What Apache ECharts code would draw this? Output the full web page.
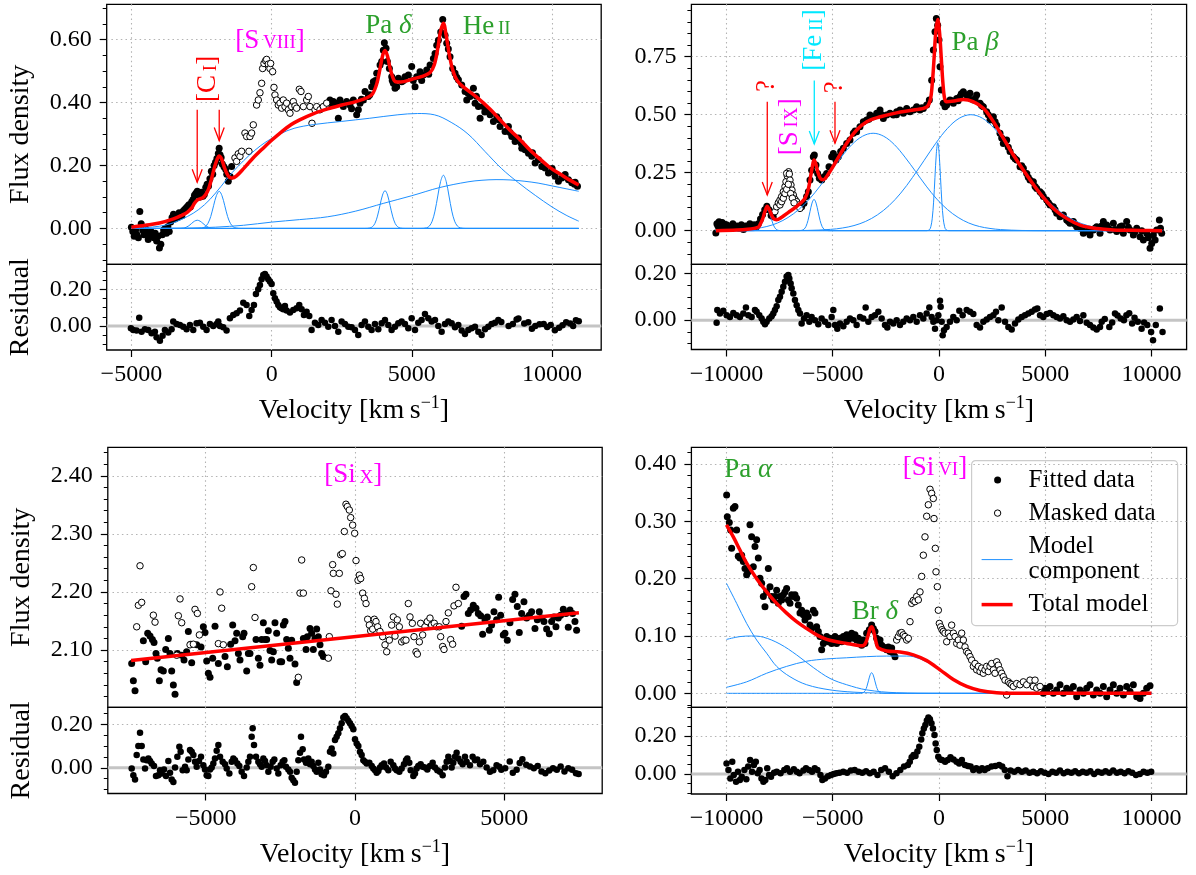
<!DOCTYPE html>
<html>
<head>
<meta charset="utf-8">
<script src="https://cdn.jsdelivr.net/npm/echarts@6.0.0/dist/echarts.min.js"></script>
<style>
html,body{margin:0;padding:0;background:#fff;}
#chart{width:1196px;height:875px;}
</style>
</head>
<body>
<div id="chart"></div>
<script>
// ---------------- Panel 1: Pa delta / He II region ----------------
const p1Fitted = [[-5000,0.004],[-4950,-0.010],[-4900,-0.025],[-4850,-0.005],[-4800,-0.020],[-4750,-0.030],[-4700,0.054],[-4650,0.015],[-4600,-0.005],[-4550,-0.020],[-4500,0.000],[-4450,-0.015],[-4400,-0.035],[-4350,-0.020],[-4300,-0.010],[-4250,-0.025],[-4200,-0.030],[-4150,-0.015],[-4100,-0.040],[-4050,-0.025],[-4000,-0.062],[-3950,-0.050],[-3900,-0.020],[-3850,-0.005],[-3800,0.000],[-3750,-0.015],[-3700,0.005],[-3650,-0.010],[-3600,0.020],[-3550,0.035],[-3500,0.045],[-3450,0.030],[-3400,0.040],[-3350,0.035],[-3300,0.050],[-3250,0.045],[-3200,0.040],[-3150,0.055],[-3100,0.060],[-3050,0.065],[-3000,0.070],
[-2950,0.075],[-2900,0.068],[-2850,0.085],[-2800,0.092],[-2750,0.105],[-2700,0.112],[-2650,0.118],[-2600,0.108],[-2550,0.100],[-2500,0.115],[-2450,0.102],[-2400,0.108],[-2350,0.130],[-2300,0.140],[-2250,0.135],[-2200,0.158],[-2150,0.182],[-2100,0.172],[-2050,0.200],[-2000,0.210],[-1950,0.222],[-1900,0.238],[-1870,0.255],[-1840,0.234],[-1800,0.225],[-1760,0.205],[-1700,0.196],[-1640,0.188],[-1600,0.172],[-1545,0.150],[-1480,0.165],[-1426,0.197],
[2081,0.408],[2140,0.392],[2200,0.403],[2319,0.398],[2378,0.350],[2438,0.408],[2500,0.395],[2557,0.387],[2676,0.403],[2795,0.392],[2850,0.380],[2913,0.408],[3032,0.361],[3092,0.377],[3151,0.398],[3200,0.410],[3270,0.408],[3330,0.435],[3448,0.419],[3500,0.425],[3567,0.450],[3627,0.466],[3700,0.470],[3746,0.493],[3865,0.519],[3924,0.530],[3983,0.566],[4019,0.590],[4079,0.572],[4126,0.530],[4198,0.508],[4281,0.482],[4300,0.470],[4340,0.461],[4400,0.445],[4459,0.450],[4519,0.477],[4638,0.466],[4700,0.470],[4757,0.482],[4876,0.487],[4994,0.514],[5050,0.470],[5113,0.450],[5172,0.482],[5291,0.498],[5350,0.470],[5410,0.487],[5529,0.503],[5600,0.490],[5648,0.519],[5767,0.540],[5826,0.556],[5886,0.582],[5945,0.598],[6029,0.624],[6100,0.664],[6183,0.614],[6242,0.588],[6300,0.570],[6361,0.545],[6456,0.508],[6540,0.493],[6600,0.480],[6659,0.472],[6778,0.456],[6897,0.435],[6956,0.408],[7000,0.430],[7075,0.419],[7194,0.445],[7253,0.398],[7300,0.420],[7372,0.387],[7432,0.350],[7551,0.387],[7600,0.370],[7670,0.377],[7789,0.361],[7907,0.340],[8026,0.355],[8100,0.345],[8145,0.324],[8323,0.308],[8442,0.324],[8500,0.305],[8561,0.292],[8680,0.276],[8799,0.287],[8900,0.270],[8918,0.255],[9037,0.250],[9156,0.239],[9275,0.229],[9300,0.240],[9394,0.208],[9513,0.218],[9632,0.197],[9700,0.200],[9750,0.192],[9869,0.176],[9988,0.181],[10000,0.190],[10107,0.166],[10226,0.150],[10345,0.160],[10400,0.165],[10464,0.171],[10583,0.155],[10702,0.145],[10800,0.140],[10821,0.147],[10904,0.134]];
const p1Masked = [[-1307,0.224],[-1248,0.213],[-1189,0.237],[-1129,0.229],[-1070,0.245],[-951,0.303],[-891,0.292],[-808,0.245],[-773,0.292],[-713,0.303],[-654,0.329],[-535,0.392],[-475,0.408],[-416,0.431],[-356,0.461],[-321,0.508],[-273,0.524],[-214,0.533],[-178,0.537],[-119,0.522],[-59,0.508],[-35,0.524],[36,0.498],[84,0.448],[119,0.424],[179,0.408],[238,0.392],[298,0.398],[357,0.382],[416,0.408],[476,0.387],[535,0.398],[595,0.377],[654,0.366],[713,0.387],[773,0.403],[832,0.389],[892,0.382],[987,0.442],[1047,0.435],[1130,0.387],[1249,0.408],[1308,0.419],[1368,0.387],[1439,0.334],[1546,0.377],[1606,0.387],[1725,0.377],[1844,0.387],[1963,0.398]];
const p1Resid = [[-5017,-0.013],[-4934,-0.022],[-4815,-0.025],[-4720,0.045],[-4637,-0.031],[-4518,-0.018],[-4399,-0.022],[-4280,-0.040],[-4162,-0.031],[-4102,-0.062],[-3983,-0.080],[-3888,-0.054],[-3805,-0.022],[-3686,-0.036],[-3567,-0.018],[-3508,0.024],[-3389,0.011],[-3270,0.005],[-3151,-0.004],[-3032,-0.018],[-2913,0.005],[-2795,-0.022],[-2676,0.015],[-2557,0.018],[-2438,-0.004],[-2319,-0.022],[-2200,0.011],[-2081,0.000],[-1962,0.011],[-1903,0.024],[-1844,0.000],[-1725,-0.007],[-1606,-0.025],[-1487,0.042],[-1368,0.060],[-1249,0.069],[-1130,0.084],[-1011,0.127],[-893,0.114],[-797,0.054],[-714,0.087],[-631,0.114],[-560,0.174],[-477,0.200],[-417,0.223],[-358,0.254],[-298,0.278],[-239,0.283],[-179,0.269],[-120,0.254],[-60,0.242],[0,0.229],[58,0.178],[118,0.151],[177,0.133],[237,0.114],[296,0.102],[356,0.096],[415,0.091],[475,0.109],[534,0.084],[653,0.073],[772,0.087],[890,0.096],[985,0.114],[1069,0.091],[1152,0.060],[1247,0.078],[1342,0.054],[1425,-0.022],[1544,0.018],[1663,0.005],[1782,0.033],[1901,0.018],[2020,-0.004],[2138,0.033],[2257,0.000],[2376,-0.031],[2495,0.024],[2614,0.011],[2733,-0.004],[2852,-0.007],[2970,-0.022],[3089,-0.049],[3208,0.005],[3327,0.024],[3446,-0.004],[3565,-0.022],[3684,0.011],[3803,-0.018],[3922,0.015],[4041,0.033],[4160,0.005],[4278,-0.022],[4397,-0.004],[4516,0.015],[4635,0.024],[4754,0.011],[4873,-0.013],[4992,0.042],[5111,-0.022],[5229,0.018],[5348,0.033],[5467,0.065],[5586,0.042],[5705,0.024],[5824,0.033],[5943,0.000],[6061,-0.031],[6180,0.011],[6299,0.024],[6418,0.015],[6537,-0.007],[6656,0.005],[6775,-0.025],[6893,-0.044],[7012,-0.022],[7131,-0.013],[7250,-0.004],[7369,-0.031],[7488,-0.049],[7607,-0.018],[7725,-0.004],[7844,0.011],[7963,0.018],[8082,0.033],[8189,0.022],[8450,0.000],[8600,0.010],[8734,0.035],[8800,0.040],[9006,0.013],[9150,0.020],[9279,-0.015],[9400,0.000],[9552,0.009],[9700,0.010],[9825,-0.006],[9950,0.005],[10098,-0.024],[10250,-0.010],[10371,0.004],[10500,0.020],[10644,0.013],[10750,0.000],[10849,0.031],[10950,0.025]];
const p1Total = [[-5000,0.004],[-4500,0.010],[-4000,0.017],[-3500,0.030],[-3200,0.042],[-3000,0.052],[-2850,0.065],[-2750,0.080],[-2650,0.090],[-2550,0.094],[-2450,0.098],[-2350,0.108],[-2250,0.125],[-2150,0.155],[-2050,0.190],[-1950,0.218],[-1870,0.230],[-1790,0.222],[-1700,0.198],[-1600,0.175],[-1500,0.162],[-1400,0.160],[-1250,0.167],[-1000,0.190],[-700,0.220],[-300,0.255],[0,0.280],[300,0.303],[700,0.330],[1000,0.345],[1500,0.365],[2000,0.380],[2500,0.392],[3000,0.403],[3400,0.415],[3600,0.428],[3750,0.460],[3870,0.510],[3960,0.550],[4043,0.565],[4130,0.548],[4220,0.510],[4320,0.480],[4420,0.466],[4600,0.465],[5000,0.474],[5400,0.484],[5650,0.495],[5800,0.520],[5920,0.570],[6020,0.625],[6124,0.652],[6220,0.615],[6330,0.555],[6450,0.505],[6600,0.472],[6800,0.452],[7300,0.418],[7800,0.378],[8145,0.345],[8500,0.312],[8858,0.282],[9200,0.250],[9571,0.220],[9900,0.195],[10285,0.173],[10600,0.155],[10950,0.138]];
const p1CompBroad = [[-5000,0.001],[-4500,0.003],[-4000,0.007],[-3500,0.018],[-3000,0.038],[-2600,0.060],[-2200,0.092],[-1800,0.134],[-1400,0.178],[-1000,0.215],[-600,0.248],[-200,0.275],[300,0.300],[800,0.318],[1500,0.330],[2500,0.340],[3500,0.350],[4500,0.361],[5200,0.365],[5800,0.361],[6400,0.337],[7000,0.300],[7600,0.245],[8200,0.190],[8800,0.145],[9400,0.105],[10000,0.068],[10500,0.042],[10950,0.023]];
const p1CompWing = [[-5000,0.000],[-3000,0.001],[-2000,0.004],[-1000,0.010],[0,0.020],[1000,0.028],[2000,0.037],[3000,0.055],[4000,0.080],[5000,0.104],[6000,0.130],[7000,0.148],[7500,0.153],[8000,0.155],[8500,0.154],[9000,0.150],[9500,0.144],[10000,0.135],[10500,0.126],[10950,0.118]];
const p1CompCI1 = [[-5000,0],[-3450,0],[-3250,0.0003],[-3150,0.001],[-3050,0.0035],[-2950,0.0085],[-2850,0.016],[-2750,0.023],[-2650,0.026],[-2550,0.023],[-2450,0.016],[-2350,0.0085],[-2250,0.0035],[-2150,0.001],[-2050,0.0003],[-1850,0],[10950,0]];
const p1CompCI2 = [[-5000,0],[-2670,0],[-2470,0.0013],[-2370,0.0052],[-2270,0.016],[-2170,0.038],[-2070,0.072],[-1970,0.104],[-1870,0.118],[-1770,0.104],[-1670,0.072],[-1570,0.038],[-1470,0.016],[-1370,0.0052],[-1270,0.0013],[-1070,0],[10950,0]];
const p1CompPaD = [[-5000,0],[3323,0],[3503,0.0013],[3593,0.0053],[3683,0.016],[3773,0.039],[3863,0.073],[3953,0.106],[4043,0.120],[4133,0.106],[4223,0.073],[4313,0.039],[4403,0.016],[4493,0.0053],[4583,0.0013],[4763,0],[10950,0]];
const p1CompHeII = [[-5000,0],[5324,0],[5524,0.0019],[5624,0.0074],[5724,0.023],[5824,0.055],[5924,0.103],[6024,0.149],[6124,0.169],[6224,0.149],[6324,0.103],[6424,0.055],[6524,0.023],[6624,0.0074],[6724,0.0019],[6924,0],[10950,0]];
// line identifications: {small caps}, *italic*
const p1Notes = [
  {x:-2260, y:0.475, text:'[C{\u2009I}]', rot:90},
  {x:-60, y:0.597, text:'[S{\u2009VIII}]', rot:0},
  {x:4160, y:0.642, text:'Pa *\u03b4*', rot:0},
  {x:7667, y:0.640, text:'He{\u2009II}', rot:0}
];
const p1Arrows = [[-2653,0.377,0.147],[-1868,0.377,0.279]];

// ---------------- Panel 2: Pa beta region ----------------
const p2Fitted = [[-10500,-0.010],[-10450,0.030],[-10400,0.020],[-10350,0.038],[-10300,0.015],[-10250,0.025],[-10200,0.035],[-10150,0.012],[-10100,0.028],[-10050,0.020],[-10000,0.025],[-9900,0.010],[-9800,0.020],[-9700,0.030],[-9600,0.015],[-9500,0.020],[-9400,0.010],[-9300,0.025],[-9200,0.005],[-9100,0.020],[-9000,0.015],[-8900,0.030],[-8800,0.020],[-8700,0.025],[-8600,0.015],[-8500,0.030],[-8400,0.050],[-8300,0.070],[-8200,0.090],[-8100,0.105],[-8000,0.090],[-7900,0.065],[-7800,0.060],
[-6463,0.103],[-6353,0.118],[-6228,0.147],[-6149,0.168],[-6070,0.218],[-5992,0.261],[-5914,0.319],[-5866,0.326],[-5788,0.283],[-5710,0.247],[-5631,0.226],[-5521,0.218],[-5412,0.233],[-5286,0.247],[-5176,0.276],[-5051,0.319],[-4972,0.333],[-4847,0.305],[-4737,0.319],[-4627,0.341],[-4502,0.355],[-4345,0.376],[-4188,0.391],[-4031,0.420],[-3950,0.430],[-3875,0.427],[-3718,0.448],[-3561,0.470],[-3404,0.477],[-3300,0.480],[-3247,0.499],[-3090,0.491],[-2933,0.506],[-2776,0.520],[-2700,0.500],[-2619,0.484],[-2462,0.499],[-2305,0.506],[-2148,0.499],[-2000,0.500],[-1992,0.513],[-1835,0.520],[-1678,0.506],[-1600,0.515],[-1521,0.527],[-1365,0.513],[-1208,0.520],[-1100,0.525],[-1051,0.534],[-894,0.520],[-800,0.530],[-737,0.527],[-580,0.542],[-455,0.563],[-345,0.649],[-267,0.779],[-188,0.858],[-125,0.915],[-63,0.886],[0,0.822],[47,0.707],[110,0.606],[204,0.549],[283,0.534],[361,0.542],[420,0.555],[518,0.563],[600,0.560],[675,0.549],[832,0.570],[900,0.560],[989,0.578],[1050,0.590],[1145,0.599],[1302,0.585],[1380,0.580],[1459,0.592],[1616,0.563],[1700,0.570],[1773,0.585],[1930,0.549],[2000,0.540],[2086,0.534],[2243,0.513],[2320,0.500],[2400,0.477],[2557,0.491],[2640,0.470],[2714,0.455],[2870,0.420],[2950,0.400],[3027,0.376],[3184,0.391],[3260,0.360],[3341,0.341],[3498,0.319],[3580,0.310],[3655,0.305],[3812,0.276],[3890,0.280],[3969,0.269],[4126,0.247],[4200,0.230],[4282,0.218],[4439,0.211],[4520,0.190],[4596,0.182],[4753,0.168],[4830,0.160],[4910,0.147],[5067,0.132],[5150,0.120],[5224,0.111],[5380,0.103],[5460,0.090],[5537,0.075],[5694,0.060],[5770,0.065],[5851,0.068],[6008,0.046],[6090,0.040],[6165,0.032],[6322,0.039],[6400,0.028],[6478,0.017],[6635,0.010],[6720,0.012],[6792,-0.011],[6949,-0.004],[7030,0.000],[7106,-0.019],[7263,0.003],[7340,0.010],[7419,0.017],[7576,-0.011],[7650,0.020],[7733,0.039],[7890,0.024],[7970,0.010],[8047,0.003],[8204,0.032],[8280,0.005],[8361,-0.004],[8518,0.017],[8600,0.020],[8674,-0.011],[8831,0.039],[8910,0.015],[8988,0.003],[9145,-0.019],[9220,-0.005],[9302,0.010],[9459,-0.026],[9540,0.000],[9616,-0.040],[9773,-0.011],[9850,-0.030],[9929,-0.076],[10008,-0.055],[10086,-0.019],[10170,-0.040],[10243,0.003],[10369,0.046],[10420,0.010],[10478,-0.011]];
const p2Masked = [[-7718,0.082],[-7639,0.103],[-7560,0.120],[-7482,0.132],[-7404,0.147],[-7325,0.168],[-7247,0.190],[-7200,0.211],[-7137,0.236],[-7074,0.254],[-7168,0.247],[-7043,0.244],[-7012,0.218],[-6965,0.197],[-6918,0.175],[-6855,0.154],[-6776,0.135],[-6698,0.125],[-6620,0.111],[-6541,0.096],[-7482,0.111],[-7404,0.125],[-7325,0.140],[-7247,0.160],[-7168,0.178],[-7090,0.200],[-6980,0.160],[-6900,0.140],[-6820,0.120]];
const p2Resid = [[-10463,-0.011],[-10432,0.043],[-10306,0.029],[-10149,0.040],[-9992,0.021],[-9836,0.014],[-9679,0.031],[-9522,0.021],[-9365,0.014],[-9208,0.029],[-9083,0.054],[-8973,0.021],[-8816,0.014],[-8659,0.043],[-8581,0.036],[-8455,0.021],[-8345,0.007],[-8267,-0.007],[-8188,-0.017],[-8110,-0.007],[-7985,0.007],[-7875,0.017],[-7796,0.029],[-7718,0.043],[-7639,0.060],[-7561,0.086],[-7483,0.100],[-7404,0.121],[-7326,0.143],[-7247,0.164],[-7169,0.186],[-7090,0.193],[-7043,0.178],[-6981,0.157],[-6934,0.136],[-6855,0.114],[-6777,0.086],[-6698,0.064],[-6620,0.043],[-6541,0.029],[-6463,-0.014],[-6353,0.007],[-6228,0.021],[-6102,-0.007],[-5992,0.014],[-5836,0.000],[-5679,-0.017],[-5522,0.007],[-5365,-0.007],[-5208,-0.021],[-5051,0.014],[-4973,0.043],[-4894,-0.021],[-4785,-0.036],[-4659,-0.014],[-4502,-0.026],[-4345,-0.007],[-4189,0.007],[-4032,0.000],[-3875,-0.021],[-3718,0.014],[-3561,0.007],[-3451,0.054],[-3326,-0.007],[-3169,0.014],[-3012,0.021],[-2855,0.036],[-2698,0.007],[-2542,-0.021],[-2432,-0.031],[-2306,-0.007],[-2149,-0.014],[-1992,0.000],[-1836,-0.021],[-1679,-0.007],[-1522,0.007],[-1365,0.000],[-1208,0.014],[-1051,-0.007],[-895,0.021],[-738,0.007],[-581,0.029],[-455,0.054],[-345,0.014],[-267,-0.007],[-188,-0.036],[-110,0.000],[-31,0.021],[47,0.083],[78,0.057],[125,-0.007],[173,-0.064],[235,-0.043],[360,-0.029],[517,-0.007],[674,0.014],[831,0.000],[956,0.040],[1113,0.021],[1302,0.043],[1459,0.036],[1615,0.026],[1772,-0.021],[1929,-0.031],[2086,-0.007],[2243,0.003],[2400,0.014],[2556,0.021],[2682,0.036],[2792,0.000],[2949,0.054],[3106,-0.007],[3263,-0.029],[3420,-0.040],[3576,-0.014],[3733,0.003],[3890,0.014],[4047,0.021],[4204,0.029],[4361,0.036],[4517,0.046],[4627,0.050],[4753,0.021],[4909,0.014],[5066,0.026],[5223,0.031],[5380,0.021],[5537,0.014],[5694,0.007],[5851,0.017],[6007,0.000],[6164,-0.007],[6321,0.003],[6478,0.014],[6635,-0.003],[6792,0.021],[6949,-0.011],[7105,-0.021],[7262,-0.031],[7419,-0.040],[7576,-0.029],[7657,-0.007],[7800,0.005],[8014,-0.029],[8150,-0.010],[8281,0.029],[8400,0.020],[8550,0.007],[8700,0.000],[8818,0.021],[8950,0.030],[9087,-0.014],[9200,0.010],[9355,-0.007],[9533,-0.036],[9650,-0.010],[9800,-0.020],[9980,-0.050],[10070,-0.086],[10200,-0.020],[10391,0.050],[10518,-0.050]];
const p2Total = [[-10500,0.000],[-9500,0.003],[-9000,0.006],[-8700,0.010],[-8500,0.015],[-8400,0.030],[-8300,0.050],[-8200,0.080],[-8080,0.105],[-7980,0.090],[-7880,0.068],[-7780,0.052],[-7650,0.047],[-7400,0.058],[-7100,0.078],[-6800,0.097],[-6500,0.120],[-6300,0.140],[-6150,0.178],[-6030,0.240],[-5930,0.290],[-5880,0.305],[-5800,0.290],[-5700,0.252],[-5580,0.225],[-5450,0.220],[-5200,0.245],[-4800,0.305],[-4350,0.376],[-3875,0.434],[-3400,0.470],[-2800,0.490],[-2000,0.508],[-1200,0.520],[-600,0.532],[-420,0.560],[-320,0.630],[-230,0.745],[-150,0.860],[-60,0.910],[30,0.850],[110,0.740],[190,0.630],[270,0.567],[360,0.556],[700,0.559],[1150,0.566],[1600,0.556],[2100,0.527],[2560,0.470],[3030,0.398],[3500,0.326],[4126,0.240],[4750,0.161],[5380,0.096],[6000,0.053],[6640,0.024],[7420,0.009],[8200,0.003],[9500,0.001],[10500,0.000]];
const p2CompBlue = [[-10500,0.0002],[-10100,0.0009],[-9100,0.0047],[-8600,0.0096],[-8100,0.018],[-7600,0.033],[-7100,0.057],[-6600,0.091],[-6100,0.136],[-5600,0.192],[-5100,0.255],[-4600,0.317],[-4100,0.371],[-3600,0.407],[-3100,0.420],[-2600,0.407],[-2100,0.371],[-1600,0.317],[-1100,0.255],[-600,0.192],[-100,0.136],[400,0.091],[900,0.057],[1400,0.033],[1900,0.018],[2400,0.0096],[2900,0.0047],[3900,0.0009],[5000,0.0001],[10500,0]];
const p2CompRed = [[-10500,0],[-6200,0.0011],[-5100,0.0056],[-4550,0.0114],[-4000,0.022],[-3450,0.040],[-2900,0.068],[-2350,0.108],[-1800,0.162],[-1250,0.229],[-700,0.303],[-150,0.377],[400,0.441],[950,0.4845],[1500,0.500],[2050,0.4845],[2600,0.441],[3150,0.377],[3700,0.303],[4250,0.229],[4800,0.162],[5350,0.108],[5900,0.068],[6450,0.040],[7000,0.022],[7550,0.0114],[8100,0.0056],[9200,0.0011],[10500,0]];
const p2CompQ = [[-10500,0],[-8800,0],[-8620,0.001],[-8530,0.004],[-8440,0.012],[-8350,0.029],[-8260,0.054],[-8170,0.0785],[-8080,0.089],[-7990,0.0785],[-7900,0.054],[-7810,0.029],[-7720,0.012],[-7630,0.004],[-7540,0.001],[-7360,0],[10500,0]];
const p2CompFeII = [[-10500,0],[-6640,0],[-6450,0.0015],[-6355,0.006],[-6260,0.018],[-6165,0.044],[-6070,0.082],[-5975,0.119],[-5880,0.135],[-5785,0.119],[-5690,0.082],[-5595,0.044],[-5500,0.018],[-5405,0.006],[-5310,0.0015],[-5120,0],[10500,0]];
const p2CompPaB = [[-10500,0],[-580,0],[-450,0.004],[-385,0.017],[-320,0.051],[-255,0.123],[-190,0.230],[-125,0.334],[-60,0.379],[5,0.334],[70,0.230],[135,0.123],[200,0.051],[265,0.017],[330,0.004],[460,0],[10500,0]];
const p2Notes = [
  {x:-8080, y:0.624, text:'?', rot:90},
  {x:-7012, y:0.448, text:'[S{\u2009IX}]', rot:90},
  {x:-5868, y:0.822, text:'[Fe{\u2009II}]', rot:90},
  {x:-4894, y:0.618, text:'?', rot:90},
  {x:1694, y:0.808, text:'Pa *\u03b2*', rot:0}
];
const p2Arrows = [[-8080,0.556,0.154],[-5868,0.647,0.374],[-4894,0.556,0.377]];

// ---------------- Panel 3: [Si X] region ----------------
const p3Fitted = [[-7480,2.077],[-7424,2.047],[-7368,2.030],[-7089,2.116],[-7011,2.080],[-6944,2.129],[-6866,2.124],[-6788,2.118],[-6732,2.113],[-6665,2.094],[-6620,2.086],[-6553,2.047],[-6497,2.066],[-6419,2.064],[-6341,2.101],[-6252,2.120],[-6196,2.094],[-6140,2.064],[-6084,2.040],[-6028,2.024],[-5950,2.094],[-5805,2.091],[-5727,2.083],[-5638,2.097],[-5582,2.132],[-5504,2.110],[-5470,2.078],[-5303,2.109],[-5158,2.105],[-5080,2.140],[-5024,2.130],[-4968,2.081],[-4912,2.060],[-4856,2.053],[-4767,2.086],[-4689,2.141],[-4577,2.077],[-4354,2.089],[-4276,2.071],[-4164,2.110],[-4097,2.143],[-4019,2.116],[-3963,2.129],[-3907,2.094],[-3852,2.083],[-3762,2.123],[-3718,2.129],[-3628,2.064],[-3572,2.094],[-3517,2.094],[-3316,2.118],[-3237,2.086],[-3182,2.074],[-3126,2.118],[-3070,2.147],[-3014,2.118],[-2959,2.118],[-2903,2.133],[-2847,2.099],[-2791,2.083],[-2735,2.097],[-2680,2.147],[-2624,2.129],[-2512,2.080],[-2456,2.080],[-2400,2.143],[-2345,2.149],[-2289,2.118],[-2233,2.103],[-2177,2.086],[-2122,2.117],[-2010,2.076],[-1954,2.044],[-1730,2.120],[-1641,2.101],[-1597,2.123],[-1507,2.137],[-1452,2.129],[-1396,2.101],[-1340,2.120],[-1284,2.136],[-1228,2.123],[-1172,2.109],[-1117,2.094],[-1061,2.089],
[3572,2.141],[3650,2.192],[3717,2.196],[3795,2.163],[3873,2.169],[3962,2.177],[4052,2.172],[4130,2.163],[4208,2.159],[4275,2.127],[4353,2.152],[4431,2.157],[4498,2.134],[4576,2.143],[4654,2.166],[4744,2.152],[4811,2.191],[4878,2.160],[4967,2.126],[5023,2.129],[5101,2.117],[5190,2.147],[5280,2.187],[5358,2.196],[5436,2.175],[5503,2.130],[5581,2.163],[5659,2.183],[5749,2.155],[5838,2.160],[5916,2.166],[6028,2.137],[6106,2.152],[6173,2.166],[6251,2.155],[6329,2.149],[6418,2.136],[6508,2.128],[6586,2.149],[6664,2.157],[6731,2.140],[6809,2.155],[6887,2.160],[6977,2.170],[7066,2.163],[7144,2.139],[7200,2.169],[7289,2.163],[7367,2.149],[7423,2.134]];
const p3Masked = [[-7312,2.140],[-7256,2.177],[-7201,2.245],[-7145,2.182],[-6754,2.160],[-6698,2.148],[-5973,2.091],[-5917,2.159],[-5861,2.188],[-5805,2.147],[-5526,2.109],[-5414,2.110],[-5359,2.170],[-5280,2.163],[-5213,2.126],[-4577,2.111],[-4521,2.200],[-4465,2.172],[-4410,2.109],[-3461,2.209],[-3405,2.242],[-3349,2.156],[-1898,2.053],[-1842,2.198],[-1786,2.255],[-1730,2.198],[-893,2.086],[-860,2.123],[-804,2.202],[-748,2.247],[-726,2.232],[-636,2.196],[-592,2.179],[-525,2.232],[-480,2.264],[-424,2.266],[-357,2.304],[-302,2.351],[-257,2.347],[-190,2.341],[-145,2.328],[-78,2.315],[-11,2.301],[34,2.254],[101,2.220],[145,2.229],[190,2.223],[257,2.198],[313,2.189],[369,2.180],[424,2.153],[480,2.143],[525,2.133],[592,2.136],[648,2.153],[703,2.149],[759,2.140],[837,2.132],[927,2.123],[1005,2.109],[1061,2.097],[1150,2.117],[1228,2.143],[1284,2.157],[1340,2.124],[1418,2.152],[1485,2.140],[1563,2.114],[1641,2.117],[1708,2.117],[1786,2.180],[1842,2.157],[1920,2.146],[1976,2.123],[2043,2.097],[2088,2.093],[2155,2.114],[2199,2.146],[2266,2.126],[2344,2.140],[2422,2.149],[2512,2.155],[2567,2.143],[2656,2.146],[2735,2.140],[2825,2.140],[2869,2.123],[2936,2.106],[2981,2.101],[3048,2.149],[3126,2.164],[3204,2.118],[3271,2.110],[3316,2.176],[3383,2.208],[3461,2.180]];
const p3Resid = [[-7480,-0.003],[-7424,-0.034],[-7368,-0.054],[-7312,0.059],[-7257,0.100],[-7201,0.162],[-7145,0.100],[-7089,0.038],[-7033,-0.003],[-6977,0.035],[-6921,0.043],[-6866,0.032],[-6810,0.020],[-6732,0.008],[-6665,-0.038],[-6587,-0.034],[-6531,-0.011],[-6475,-0.026],[-6397,-0.008],[-6330,-0.038],[-6252,0.032],[-6196,-0.023],[-6140,-0.054],[-6084,-0.065],[-6028,0.002],[-5950,0.051],[-5883,0.097],[-5839,0.074],[-5772,-0.011],[-5693,0.005],[-5638,-0.011],[-5582,0.038],[-5526,0.082],[-5470,0.074],[-5414,0.059],[-5359,0.028],[-5303,0.005],[-5225,0.032],[-5158,0.051],[-5080,0.012],[-5024,-0.008],[-4968,-0.034],[-4912,-0.038],[-4856,-0.008],[-4801,0.002],[-4745,0.020],[-4689,0.043],[-4633,0.079],[-4577,0.105],[-4521,0.051],[-4432,0.028],[-4354,0.017],[-4298,-0.003],[-4209,-0.026],[-4131,0.028],[-4075,0.043],[-4019,0.035],[-3941,0.020],[-3874,0.008],[-3796,-0.018],[-3718,-0.038],[-3628,0.002],[-3573,0.028],[-3517,0.051],[-3461,0.143],[-3427,0.182],[-3383,0.105],[-3316,0.051],[-3238,0.028],[-3182,0.017],[-3126,0.005],[-3070,0.043],[-3014,0.032],[-2959,0.012],[-2903,-0.018],[-2825,0.005],[-2758,0.028],[-2702,0.038],[-2624,-0.003],[-2568,-0.026],[-2490,0.012],[-2423,0.028],[-2367,0.035],[-2311,0.005],[-2233,-0.008],[-2177,-0.018],[-2122,-0.045],[-2066,-0.057],[-2010,-0.069],[-1954,-0.018],[-1898,0.035],[-1842,0.069],[-1809,0.143],[-1753,0.085],[-1708,0.038],[-1641,0.023],[-1563,0.043],[-1507,0.017],[-1452,0.028],[-1396,0.008],[-1340,-0.008],[-1284,-0.018],[-1228,0.023],[-1172,-0.008],[-1117,-0.029],[-1039,-0.034],[-972,-0.018],[-894,0.005],[-838,0.074],[-782,0.089],[-726,0.066],[-670,0.128],[-614,0.143],[-559,0.159],[-503,0.182],[-447,0.205],[-391,0.232],[-335,0.239],[-280,0.228],[-224,0.217],[-168,0.205],[-112,0.192],[-56,0.177],[0,0.131],[56,0.112],[112,0.100],[167,0.074],[223,0.059],[279,0.035],[335,0.028],[391,0.020],[480,0.023],[559,0.008],[614,-0.003],[670,-0.011],[726,-0.023],[782,-0.014],[838,0.002],[894,0.012],[972,0.020],[1039,0.002],[1117,-0.011],[1195,0.028],[1284,0.012],[1340,-0.003],[1396,-0.011],[1485,-0.018],[1563,-0.003],[1641,0.017],[1708,0.035],[1752,0.043],[1819,0.023],[1864,-0.011],[1953,-0.038],[2009,-0.026],[2065,-0.003],[2120,0.008],[2199,0.017],[2266,0.005],[2344,0.002],[2422,-0.008],[2511,0.008],[2601,0.023],[2679,0.002],[2757,-0.011],[2846,-0.018],[2936,-0.034],[3014,0.002],[3070,0.028],[3126,0.051],[3181,0.032],[3237,0.002],[3293,0.023],[3349,0.051],[3404,0.069],[3460,0.043],[3538,0.028],[3605,0.017],[3683,0.051],[3739,0.028],[3851,0.012],[3940,0.051],[4018,0.035],[4096,0.038],[4186,0.017],[4297,0.028],[4409,0.002],[4520,-0.018],[4632,-0.011],[4743,0.012],[4833,0.005],[4900,-0.009],[5030,-0.002],[5183,0.029],[5286,-0.022],[5414,-0.009],[5517,0.022],[5606,0.040],[5734,0.014],[5862,0.006],[5991,-0.002],[6119,0.009],[6247,-0.017],[6375,-0.025],[6504,-0.012],[6632,-0.002],[6760,-0.009],[6888,0.006],[7016,-0.017],[7145,-0.002],[7273,-0.009],[7401,-0.025],[7490,-0.028]];
const p3Total = [[-7500,2.082],[7500,2.164]];
const p3Notes = [{x:-57, y:2.401, text:'[Si{\u2009X}]', rot:0}];

// ---------------- Panel 4: Pa alpha / [Si VI] region ----------------
const p4Fitted = [[-9992,0.346],[-9961,0.308],[-9867,0.298],[-9804,0.285],[-9757,0.253],[-9678,0.323],[-9600,0.326],[-9521,0.285],[-9443,0.239],[-9365,0.236],[-9286,0.241],[-9208,0.230],[-9129,0.218],[-9051,0.207],[-8972,0.212],[-8894,0.294],[-8816,0.273],[-8737,0.221],[-8659,0.256],[-8580,0.268],[-8502,0.236],[-8423,0.201],[-8345,0.192],[-8266,0.169],[-8188,0.151],[-8110,0.177],[-8031,0.218],[-7953,0.186],[-7874,0.169],[-7796,0.163],[-7717,0.169],[-7639,0.180],[-7561,0.157],[-7482,0.169],[-7404,0.163],[-7325,0.172],[-7247,0.177],[-7169,0.183],[-7090,0.163],[-7012,0.157],[-6933,0.172],[-6855,0.169],[-6776,0.172],[-6698,0.166],[-6620,0.154],[-6541,0.140],[-6463,0.145],[-6384,0.137],[-6306,0.128],[-6227,0.140],[-6149,0.134],[-6070,0.119],[-5992,0.113],[-5914,0.145],[-5835,0.140],[-5757,0.116],[-5678,0.108],[-5600,0.099],[-5521,0.076],[-5443,0.087],[-5364,0.093],[-5286,0.099],[-5208,0.090],[-5129,0.096],[-5051,0.087],[-4972,0.093],[-4894,0.099],[-4815,0.087],[-4737,0.093],[-4659,0.096],[-4580,0.090],[-4502,0.099],[-4423,0.093],[-4345,0.102],[-4267,0.093],[-4188,0.099],[-4110,0.105],[-4031,0.096],[-3953,0.102],[-3875,0.093],[-3796,0.096],[-3718,0.087],[-3639,0.084],[-3561,0.093],[-3482,0.087],[-3404,0.105],[-3278,0.111],[-3169,0.119],[-3090,0.113],[-3012,0.108],[-2933,0.096],[-2855,0.087],[-2776,0.093],[-2698,0.084],[-2619,0.081],[-2541,0.079],[-2462,0.076],[-2384,0.081],[-2305,0.073],[-2227,0.079],[-2149,0.070],[-2070,0.064],
[4910,0.000],[4988,0.009],[5067,0.003],[5224,0.012],[5380,0.000],[5537,0.006],[5694,0.015],[5851,0.000],[6008,0.009],[6165,0.003],[6321,0.012],[6478,-0.006],[6635,0.006],[6792,0.000],[6949,0.009],[7106,0.015],[7263,-0.003],[7419,0.006],[7576,0.000],[7733,0.012],[7890,-0.006],[8047,0.006],[8204,0.015],[8361,0.000],[8518,0.009],[8674,-0.003],[8831,0.012],[8988,0.003],[9145,0.015],[9302,-0.006],[9459,-0.009],[9616,0.000],[9773,0.009],[9929,0.013]];
const p4Masked = [[-1992,0.093],[-1914,0.099],[-1835,0.105],[-1757,0.106],[-1678,0.102],[-1600,0.099],[-1521,0.093],[-1443,0.096],[-1365,0.125],[-1286,0.157],[-1208,0.162],[-1129,0.160],[-1051,0.169],[-972,0.163],[-894,0.177],[-815,0.204],[-737,0.241],[-659,0.273],[-580,0.309],[-502,0.329],[-423,0.356],[-345,0.349],[-267,0.340],[-235,0.305],[-173,0.253],[-141,0.212],[-78,0.186],[-31,0.145],[16,0.122],[79,0.116],[141,0.111],[204,0.108],[283,0.105],[361,0.090],[439,0.105],[518,0.099],[596,0.119],[675,0.105],[753,0.099],[832,0.087],[910,0.093],[989,0.084],[1067,0.105],[1145,0.093],[1224,0.081],[1302,0.073],[1381,0.070],[1459,0.064],[1538,0.058],[1616,0.047],[1695,0.052],[1773,0.041],[1852,0.047],[1930,0.038],[2008,0.044],[2087,0.035],[2165,0.041],[2243,0.047],[2321,0.038],[2400,0.047],[2478,0.052],[2557,0.041],[2635,0.035],[2714,0.055],[2792,0.049],[2870,0.041],[2949,0.035],[3027,0.029],[3106,0.023],[3184,-0.003],[3263,0.020],[3341,0.017],[3420,0.015],[3498,0.012],[3655,0.017],[3812,0.015],[3969,0.020],[4126,0.015],[4282,0.023],[4439,0.012],[4518,0.023],[4596,0.009],[4753,0.012]];
const p4Resid = [[-9997,0.056],[-9907,0.021],[-9818,-0.023],[-9728,0.065],[-9657,-0.005],[-9549,-0.040],[-9460,0.012],[-9370,-0.032],[-9281,-0.014],[-9156,0.021],[-9066,-0.028],[-8977,0.039],[-8888,0.074],[-8798,0.012],[-8709,0.047],[-8619,0.065],[-8530,0.004],[-8440,0.021],[-8351,-0.023],[-8262,-0.040],[-8172,-0.032],[-8083,0.030],[-7993,-0.005],[-7904,-0.014],[-7761,0.007],[-7635,0.012],[-7457,0.004],[-7278,0.021],[-7153,0.030],[-7010,0.012],[-6831,0.025],[-6688,0.012],[-6562,0.004],[-6383,0.018],[-6258,0.030],[-6115,0.021],[-5972,0.012],[-5847,0.030],[-5721,0.021],[-5579,-0.005],[-5489,-0.032],[-5364,-0.023],[-5221,-0.011],[-5078,-0.005],[-4953,0.000],[-4827,0.004],[-4684,0.007],[-4505,0.012],[-4326,0.007],[-4148,0.018],[-3969,0.021],[-3790,0.012],[-3611,0.007],[-3432,0.014],[-3253,0.004],[-3074,0.012],[-2895,-0.005],[-2717,0.021],[-2538,0.030],[-2359,0.012],[-2180,-0.011],[-2001,0.004],[-1822,0.021],[-1643,0.039],[-1465,0.047],[-1375,0.065],[-1286,0.088],[-1196,0.100],[-1107,0.095],[-1017,0.118],[-928,0.144],[-838,0.182],[-785,0.214],[-713,0.240],[-642,0.258],[-570,0.281],[-499,0.298],[-427,0.288],[-355,0.267],[-284,0.240],[-212,0.205],[-159,0.161],[-105,0.126],[-34,0.091],[56,0.077],[145,0.074],[288,0.065],[413,0.074],[539,0.088],[682,0.077],[825,0.065],[950,0.056],[1075,0.074],[1219,0.047],[1362,0.042],[1487,0.039],[1612,0.021],[1755,0.030],[1898,0.018],[2024,0.030],[2149,0.021],[2292,0.030],[2471,0.039],[2650,0.042],[2829,0.047],[2972,0.039],[3097,0.021],[3222,-0.011],[3365,0.018],[3544,0.012],[3723,0.021],[3902,0.012],[4080,0.018],[4259,0.007],[4438,0.012],[4617,0.004],[4796,0.014],[4975,0.007],[5154,0.000],[5333,0.012],[5511,0.007],[5690,0.018],[5869,0.004],[6048,0.012],[6227,0.007],[6406,0.014],[6585,0.004],[6764,0.012],[6942,0.007],[7121,0.014],[7300,0.000],[7479,0.012],[7658,0.007],[7837,0.014],[8016,0.007],[8194,0.018],[8373,0.007],[8552,0.012],[8731,0.004],[8910,0.014],[9089,0.007],[9268,-0.005],[9447,0.000],[9625,0.012],[9804,0.007],[9983,0.012]];
const p4Total = [[-10000,0.294],[-9678,0.273],[-9365,0.250],[-9051,0.227],[-8580,0.200],[-8110,0.177],[-7639,0.157],[-7169,0.140],[-6698,0.125],[-6227,0.113],[-5757,0.102],[-5286,0.094],[-4816,0.090],[-4345,0.087],[-3875,0.084],[-3600,0.083],[-3450,0.088],[-3320,0.103],[-3240,0.113],[-3169,0.116],[-3095,0.111],[-3020,0.099],[-2940,0.086],[-2855,0.079],[-2463,0.074],[-1835,0.072],[-1208,0.067],[-580,0.057],[47,0.041],[674,0.024],[1302,0.012],[1929,0.005],[2714,0.001],[3498,0.000],[10000,0.000]];
const p4CompSteep = [[-10000,0.192],[-9521,0.157],[-9051,0.122],[-8580,0.093],[-8110,0.070],[-7639,0.047],[-7012,0.029],[-6227,0.015],[-5129,0.006],[-4000,0.002],[-3000,0.0006],[-1500,0],[10000,0]];
const p4CompWide = [[-10000,0.094],[-9365,0.099],[-8816,0.100],[-8266,0.098],[-7482,0.086],[-6698,0.067],[-5914,0.045],[-5129,0.026],[-4345,0.015],[-3404,0.006],[-1992,0.001],[0,0],[10000,0]];
const p4CompFlat = [[-10000,0.0105],[-9051,0.020],[-8110,0.035],[-7169,0.047],[-6227,0.056],[-5286,0.060],[-4345,0.062],[-3404,0.064],[-2463,0.065],[-1521,0.065],[-1208,0.064],[-580,0.055],[47,0.041],[674,0.024],[1302,0.012],[1929,0.005],[2714,0.001],[3498,0],[10000,0]];
const p4CompBrD = [[-10000,0],[-3769,0],[-3619,0.0004],[-3544,0.0016],[-3469,0.0049],[-3394,0.0117],[-3319,0.0218],[-3244,0.0318],[-3169,0.036],[-3094,0.0318],[-3019,0.0218],[-2944,0.0117],[-2869,0.0049],[-2794,0.0016],[-2719,0.0004],[-2569,0],[10000,0]];
const p4Notes = [
  {x:-8974, y:0.390, text:'Pa *\u03b1*', rot:0},
  {x:-188, y:0.393, text:'[Si{\u2009VI}]', rot:0},
  {x:-3012, y:0.142, text:'Br *\u03b4*', rot:0}
];

// ---------------- Axis ranges and tick labels ----------------
const xRangeTL = [-5880, 11750];
const xRangeR = [-11650, 11650];
const xRangeBL = [-8280, 8280];
const xTicksTL = [-5000, 0, 5000, 10000];
const xTicksR = [-10000, -5000, 0, 5000, 10000];
const xTicksBL = [-5000, 0, 5000];
const yRange = [[-0.114, 0.712], [-0.131, 0.336], [-0.145, 0.976], [-0.125, 0.2385], [2.0014, 2.449], [-0.118, 0.2785], [-0.0244, 0.4293], [-0.105, 0.351]];
const yTicks = [[0, 0.2, 0.4, 0.6], [0, 0.2], [0, 0.25, 0.5, 0.75], [0, 0.2], [2.1, 2.2, 2.3, 2.4], [0, 0.2], [0, 0.1, 0.2, 0.3, 0.4], [0, 0.2]];
const yMinorStep = [0.05, 0.05, 0.05, 0.05, 0.02, 0.05, 0.02, 0.05];

// ---------------- Styling ----------------
const FONT = 'Liberation Serif, DejaVu Serif, serif';
const FS = 24;        // tick labels
const FS_LEG = 25;    // legend
const FS_NAME = 28;   // axis titles
const FS_NOTE = 27;   // line identifications
const FS_SC = 19;     // small capitals
const RED = '#ff0000', MAG = '#ff00ff', GRN = '#2ca02c', CYAN = '#00e8ff', BLUE = '#1e90ff';
const GRIDLINE = {color: '#b3b3b3', width: 1.1, type: [1.5, 3.2]};

const grids = [
  {left: 106.7, top: 4.3, width: 494.5, height: 260},
  {left: 106.7, top: 264.3, width: 494.5, height: 85.7},
  {left: 691.4, top: 4.3, width: 495.2, height: 260},
  {left: 691.4, top: 264.3, width: 495.2, height: 85.2},
  {left: 107.8, top: 447.3, width: 494.4, height: 260},
  {left: 107.8, top: 707.3, width: 494.4, height: 86.2},
  {left: 691.4, top: 447.3, width: 495.2, height: 260},
  {left: 691.4, top: 707.3, width: 495.2, height: 86.7}
].map(g => Object.assign({show: true, borderColor: '#000', borderWidth: 1.3, backgroundColor: 'transparent', containLabel: false}, g));

function minus(s) { return String(s).replace('-', '\u2212'); }

function tickRange(lo, hi, step) {
  const out = [];
  const start = Math.ceil(lo / step - 1e-9);
  const end = Math.floor(hi / step + 1e-9);
  for (let k = start; k <= end; k++) out.push(+(k * step).toFixed(4));
  return out;
}

const velName = '{n|Velocity [km\u2009s}{sup|\u22121}{n|]}';
const velStyle = {
  rich: {
    n: {fontFamily: FONT, fontSize: FS_NAME, color: '#000', lineHeight: 32},
    sup: {fontFamily: FONT, fontSize: 18, color: '#000', lineHeight: 32, padding: [0, 0, 15, 0]}
  }
};

function xAxisFor(gi, range, ticks, isResid) {
  return {
    type: 'value', gridIndex: gi, min: range[0], max: range[1],
    axisLine: {show: false, onZero: false},
    axisTick: {show: isResid, customValues: ticks, length: 7, lineStyle: {color: '#000', width: 1.2}},
    axisLabel: {show: isResid, customValues: ticks, formatter: v => minus(v), fontFamily: FONT, fontSize: FS, color: '#000', margin: 13},
    splitLine: {show: true, lineStyle: GRIDLINE},
    name: isResid ? velName : '', nameLocation: 'middle', nameGap: 45, nameTextStyle: velStyle
  };
}

function yAxisFor(gi, name) {
  return {
    type: 'value', gridIndex: gi, position: 'left', min: yRange[gi][0], max: yRange[gi][1],
    axisLine: {show: false, onZero: false},
    axisTick: {show: true, customValues: yTicks[gi], length: 7, lineStyle: {color: '#000', width: 1.2}},
    axisLabel: {customValues: yTicks[gi], formatter: v => minus(v.toFixed(2)), fontFamily: FONT, fontSize: FS, color: '#000', margin: 15},
    splitLine: {show: true, lineStyle: GRIDLINE},
    name: name || '', nameLocation: 'middle', nameGap: 72, nameRotate: 90,
    nameTextStyle: {fontFamily: FONT, fontSize: FS_NAME, color: '#000'}
  };
}

function yMinorFor(gi) {
  return {
    type: 'value', gridIndex: gi, position: 'left', min: yRange[gi][0], max: yRange[gi][1],
    axisLine: {show: false, onZero: false},
    axisTick: {show: true, customValues: tickRange(yRange[gi][0], yRange[gi][1], yMinorStep[gi]), length: 4, lineStyle: {color: '#000', width: 1}},
    axisLabel: {show: false},
    splitLine: {show: false}
  };
}

const xAxes = [
  xAxisFor(0, xRangeTL, xTicksTL, false), xAxisFor(1, xRangeTL, xTicksTL, true),
  xAxisFor(2, xRangeR, xTicksR, false), xAxisFor(3, xRangeR, xTicksR, true),
  xAxisFor(4, xRangeBL, xTicksBL, false), xAxisFor(5, xRangeBL, xTicksBL, true),
  xAxisFor(6, xRangeR, xTicksR, false), xAxisFor(7, xRangeR, xTicksR, true)
];
const yNames = ['Flux density', 'Residual', '', '', 'Flux density', 'Residual', '', ''];
const yAxes = [];
for (let i = 0; i < 8; i++) yAxes.push(yAxisFor(i, yNames[i]));
for (let i = 0; i < 8; i++) yAxes.push(yMinorFor(i));

// --- text layout for line identifications: roman, {small caps}, *italic* ---
const measureCtx = document.createElement('canvas').getContext('2d');
function fontString(size, italic) { return (italic ? 'italic ' : '') + size + 'px ' + FONT; }
function tokenize(str) {
  return str.split(/(\{[^}]*\}|\*[^*]*\*)/).filter(s => s.length).map(s => {
    if (s[0] === '{') return {t: s.slice(1, -1), size: FS_SC, italic: false};
    if (s[0] === '*') return {t: s.slice(1, -1), size: FS_NOTE, italic: true};
    return {t: s, size: FS_NOTE, italic: false};
  });
}
function noteGroup(str, color, px, py, rotDeg) {
  const toks = tokenize(str);
  let total = 0;
  toks.forEach(tk => { measureCtx.font = fontString(tk.size, tk.italic); tk.w = measureCtx.measureText(tk.t).width; total += tk.w; });
  let x = -total / 2;
  const children = toks.map(tk => {
    const el = {
      type: 'text', x: x, y: 0.3 * (FS_NOTE - tk.size),
      style: {text: tk.t, fill: color, font: fontString(tk.size, tk.italic), align: 'left', verticalAlign: 'middle'}
    };
    x += tk.w;
    return el;
  });
  return {type: 'group', x: px, y: py, rotation: rotDeg * Math.PI / 180, children: children};
}

const series = [];

function addPanel(gi, fitted, masked, resid, comps, total) {
  const ri = gi + 1;
  const xr = xAxes[ri];
  series.push({
    type: 'line', xAxisIndex: ri, yAxisIndex: ri, data: [[xr.min, 0], [xr.max, 0]],
    symbol: 'none', lineStyle: {color: '#c4c4c4', width: 3}, z: 1, silent: true
  });
  series.push({
    type: 'scatter', xAxisIndex: ri, yAxisIndex: ri, data: resid, symbol: 'circle', symbolSize: 6.5,
    itemStyle: {color: '#000', opacity: 1}, z: 2, silent: true
  });
  series.push({
    type: 'scatter', xAxisIndex: gi, yAxisIndex: gi, data: fitted, symbol: 'circle', symbolSize: 7,
    itemStyle: {color: '#000', opacity: 1}, z: 2, silent: true
  });
  if (masked) series.push({
    type: 'scatter', xAxisIndex: gi, yAxisIndex: gi, data: masked, symbol: 'circle', symbolSize: 6.5,
    itemStyle: {color: '#fff', borderColor: '#000', borderWidth: 1, opacity: 1}, z: 2, silent: true
  });
  comps.forEach(c => series.push({
    type: 'line', xAxisIndex: gi, yAxisIndex: gi, data: c, symbol: 'none', smooth: 0.35,
    lineStyle: {color: BLUE, width: 1}, z: 3, silent: true
  }));
  series.push({
    type: 'line', xAxisIndex: gi, yAxisIndex: gi, data: total, symbol: 'none', smooth: 0.35,
    lineStyle: {color: RED, width: 3.5}, z: 4, silent: true
  });
}

function addNotes(gi, notes, colors) {
  series.push({
    type: 'custom', xAxisIndex: gi, yAxisIndex: gi, z: 6, silent: true, clip: false,
    data: notes.map(n => [n.x, n.y]),
    renderItem: function (params, api) {
      const n = notes[params.dataIndex];
      const p = api.coord([api.value(0), api.value(1)]);
      return noteGroup(n.text, colors[params.dataIndex], p[0], p[1], n.rot || 0);
    }
  });
}

function addArrows(gi, arrows, colors) {
  series.push({
    type: 'custom', xAxisIndex: gi, yAxisIndex: gi, z: 6, silent: true, clip: false,
    data: arrows,
    encode: {x: 0, y: [1, 2]},
    renderItem: function (params, api) {
      const col = colors[params.dataIndex];
      const a = api.coord([api.value(0), api.value(1)]);
      const b = api.coord([api.value(0), api.value(2)]);
      return {
        type: 'group', children: [
          {type: 'line', shape: {x1: a[0], y1: a[1], x2: b[0], y2: b[1]}, style: {stroke: col, lineWidth: 1.3}},
          {type: 'polyline', shape: {points: [[b[0] - 5, b[1] - 13], [b[0], b[1]], [b[0] + 5, b[1] - 13]]}, style: {stroke: col, lineWidth: 1.3, fill: null}}
        ]
      };
    }
  });
}

addPanel(0, p1Fitted, p1Masked, p1Resid, [p1CompBroad, p1CompWing, p1CompCI1, p1CompCI2, p1CompPaD, p1CompHeII], p1Total);
addNotes(0, p1Notes, [RED, MAG, GRN, GRN]);
addArrows(0, p1Arrows, [RED, RED]);

addPanel(2, p2Fitted, p2Masked, p2Resid, [p2CompBlue, p2CompRed, p2CompQ, p2CompFeII, p2CompPaB], p2Total);
addNotes(2, p2Notes, [RED, MAG, CYAN, RED, GRN]);
addArrows(2, p2Arrows, [RED, CYAN, RED]);

addPanel(4, p3Fitted, p3Masked, p3Resid, [], p3Total);
addNotes(4, p3Notes, [MAG]);

addPanel(6, p4Fitted, p4Masked, p4Resid, [p4CompSteep, p4CompWide, p4CompFlat, p4CompBrD], p4Total);
addNotes(6, p4Notes, [GRN, MAG, GRN]);

// legend box for the lower-right panel
const LX = 971, LY = 460;
const legendGraphic = {
  type: 'group', left: LX, top: LY, z: 100, silent: true,
  children: [
    {type: 'rect', shape: {x: 0, y: 0, width: 206, height: 165, r: 4}, style: {fill: 'rgba(255,255,255,0.85)', stroke: '#cccccc', lineWidth: 1.2}},
    {type: 'circle', shape: {cx: 26, cy: 19.5, r: 3.5}, style: {fill: '#000'}},
    {type: 'text', x: 57, y: 19.5, style: {text: 'Fitted data', font: fontString(FS_LEG, false), fill: '#000', verticalAlign: 'middle'}},
    {type: 'circle', shape: {cx: 26, cy: 52.5, r: 3.2}, style: {fill: '#fff', stroke: '#000', lineWidth: 1}},
    {type: 'text', x: 57, y: 52.5, style: {text: 'Masked data', font: fontString(FS_LEG, false), fill: '#000', verticalAlign: 'middle'}},
    {type: 'line', shape: {x1: 10, y1: 99, x2: 41, y2: 99}, style: {stroke: BLUE, lineWidth: 1}},
    {type: 'text', x: 57, y: 98, style: {text: 'Model\ncomponent', font: fontString(FS_LEG, false), lineHeight: 25, fill: '#000', verticalAlign: 'middle'}},
    {type: 'line', shape: {x1: 10, y1: 144, x2: 41, y2: 144}, style: {stroke: RED, lineWidth: 3.5}},
    {type: 'text', x: 57, y: 144, style: {text: 'Total model', font: fontString(FS_LEG, false), fill: '#000', verticalAlign: 'middle'}}
  ]
};

const chart = echarts.init(document.getElementById('chart'), null, {renderer: 'canvas'});
chart.setOption({
  animation: false,
  backgroundColor: '#fff',
  textStyle: {fontFamily: FONT},
  grid: grids,
  xAxis: xAxes,
  yAxis: yAxes,
  series: series,
  graphic: [legendGraphic]
});
</script>
</body>
</html>
